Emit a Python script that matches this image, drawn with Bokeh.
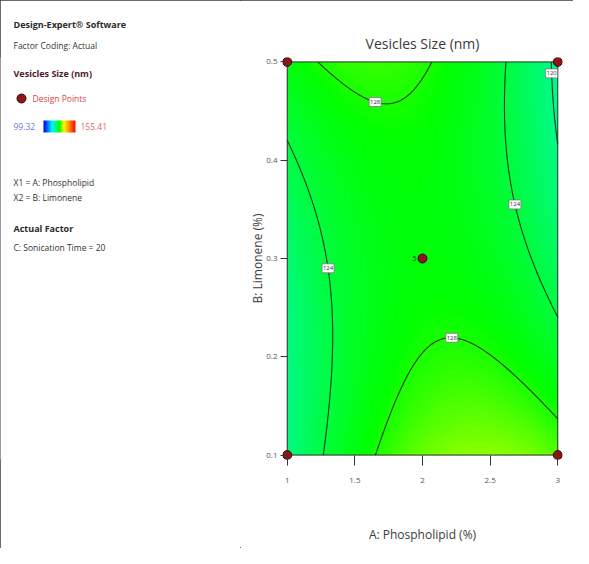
import numpy as np
from bokeh.plotting import figure
from bokeh.plotting.contour import contour_data
from bokeh.models import LinearColorMapper, FixedTicker, Title
from bokeh.layouts import row
from bokeh.embed import file_html
from bokeh.resources import INLINE
from bokeh.core.properties import value

# ---------------- data ----------------
phospholipid_range = [1.0, 3.0]      # A: Phospholipid (%)
limonene_range = [0.1, 0.5]          # B: Limonene (%)
response_min = 99.32
response_max = 155.41
# fitted quadratic model (coded units: x=(A-2)/1, y=(B-0.3)/0.2), sonication time = 20
coef_b0 = 127.0
coef_bA = 0.5
coef_bB = -0.995
coef_bAA = -5.25
coef_bBB = 2.275
coef_bAB = -4.2
contour_levels = [120, 124, 128]
design_A = [1, 3, 1, 3, 2]
design_B = [0.1, 0.1, 0.5, 0.5, 0.3]
center_replicates = 5
label_level = [128, 124, 124, 120, 128]
label_A = [1.67, 1.33, 2.70, 2.94, 2.22]
label_B = [0.467, 0.291, 0.356, 0.489, 0.233]
x_ticks = [1, 1.5, 2, 2.5, 3]
x_tick_labels = ["1", "1.5", "2", "2.5", "3"]
y_ticks = [0.1, 0.2, 0.3, 0.4, 0.5]
y_tick_labels = ["0.1", "0.2", "0.3", "0.4", "0.5"]
palette_stops = [(0, 0, 255), (0, 245, 255), (0, 255, 0), (255, 255, 0), (255, 0, 0)]
palette_stop_pos = [0.0, 0.25, 0.5, 0.63, 1.0]
header_lines = ["Design-Expert\u00ae Software", "Factor Coding: Actual"]
info_lines = [
    ("Vesicles Size (nm)", "bold", "#4a2030"),
    ("Design Points", "normal", "#d64545"),
    ("X1 = A: Phospholipid", "normal", "#333333"),
    ("X2 = B: Limonene", "normal", "#333333"),
    ("Actual Factor", "bold", "#2a2a2a"),
    ("C: Sonication Time = 20", "normal", "#333333"),
]

FONT = "Open Sans"


def response(A, B):
    x = (A - 2.0) / 1.0
    y = (B - 0.3) / 0.2
    return (coef_b0 + coef_bA * x + coef_bB * y + coef_bAA * x * x
            + coef_bBB * y * y + coef_bAB * x * y)


def make_palette(stops, pos, n=256):
    out = []
    for i in range(n):
        t = i / (n - 1)
        k = 0
        while k < len(pos) - 2 and t > pos[k + 1]:
            k += 1
        f = (t - pos[k]) / (pos[k + 1] - pos[k])
        f = min(max(f, 0.0), 1.0)
        c0, c1 = stops[k], stops[k + 1]
        r, g, b = (int(round(c0[j] + (c1[j] - c0[j]) * f)) for j in range(3))
        out.append("#%02x%02x%02x" % (r, g, b))
    return out


palette = make_palette(palette_stops, palette_stop_pos)
mapper = LinearColorMapper(palette=palette, low=response_min, high=response_max)

A_grid = np.linspace(phospholipid_range[0], phospholipid_range[1], 241)
B_grid = np.linspace(limonene_range[0], limonene_range[1], 241)
AA, BB = np.meshgrid(A_grid, B_grid)
Z = response(AA, BB)

# ---------------- layout geometry ----------------
W, H = 573, 548
LW = 240                      # width of the left information panel
ML, MR, MT, MB = 282, 11, 57, 89
xr = (0.965, 3.035)
yr = (0.0955, 0.5045)

# ---------------- left information panel ----------------
# its frame is aligned with the contour plot's frame (page rows MT .. H-MB);
# the y range is chosen so that y = H - page_row
left = figure(width=LW, height=H, x_range=(0, LW), y_range=(MB, H - MT),
              min_border_left=0, min_border_right=0, min_border_top=MT,
              min_border_bottom=MB, x_axis_type=None, y_axis_type=None,
              output_backend="svg", toolbar_location=None)
left.grid.visible = False
left.outline_line_color = None
left.background_fill_color = "white"
left.border_fill_color = "white"

# two header lines live above the frame, as titles
left.add_layout(Title(text=header_lines[1], align="left", offset=13, standoff=14,
                      text_font=FONT, text_font_size="8.5px", text_font_style="normal",
                      text_color="#333333"), "above")
left.add_layout(Title(text=header_lines[0], align="left", offset=13, standoff=0,
                      text_font=FONT, text_font_size="9px", text_font_style="bold",
                      text_color="#2a2a2a"), "above")

line_y = [73, 98, 182, 197, 228, 247]
line_x = [13, 32, 13, 13, 13, 13]
for (txt, style, col), tx, ty in zip(info_lines, line_x, line_y):
    left.text(x=[tx], y=[H - ty], text=[txt], text_font=value(FONT),
              text_font_size="9px" if style == "bold" else "8.5px",
              text_font_style=style, text_color=col,
              text_align="left", text_baseline="middle")

left.scatter(x=[21], y=[H - 98], size=9, fill_color="#8e1616",
             line_color="#3c0606", line_width=1)

grad = np.linspace(response_min, response_max, 64)[None, :]
left.image(image=[grad], x=43, y=H - 132, dw=32, dh=12, color_mapper=mapper)
left.text(x=[13], y=[H - 126], text=["%.2f" % response_min], text_font=value(FONT),
          text_font_size="8.5px", text_color="#6a78d8", text_align="left",
          text_baseline="middle")
left.text(x=[80], y=[H - 126], text=["%.2f" % response_max], text_font=value(FONT),
          text_font_size="8.5px", text_color="#e06a6a", text_align="left",
          text_baseline="middle")

# ---------------- contour plot ----------------
p = figure(width=W - LW, height=H, x_range=xr, y_range=yr,
           min_border_left=ML - LW, min_border_right=MR, min_border_top=MT,
           min_border_bottom=MB, output_backend="svg", toolbar_location=None,
           title="Vesicles Size (nm)")
p.grid.visible = False
p.outline_line_color = None
p.background_fill_color = "white"
p.border_fill_color = "white"

p.title.align = "center"
p.title.text_font = FONT
p.title.text_font_size = "14px"
p.title.text_font_style = "normal"
p.title.text_color = "#3a3a3a"
p.title.standoff = 10

fx = (W - ML - MR) / (xr[1] - xr[0])
fy = (H - MT - MB) / (yr[1] - yr[0])

p.image(image=[Z], x=phospholipid_range[0], y=limonene_range[0],
        dw=phospholipid_range[1] - phospholipid_range[0],
        dh=limonene_range[1] - limonene_range[0], color_mapper=mapper)

p.contour(A_grid, B_grid, Z, contour_levels, line_color="#173a17", line_width=1.1)

p.quad(left=[phospholipid_range[0]], right=[phospholipid_range[1]],
       bottom=[limonene_range[0]], top=[limonene_range[1]],
       fill_color=None, line_color="#2a2a2a", line_width=1)

cd = contour_data(A_grid, B_grid, Z, contour_levels, want_fill=False, want_line=True)
lx, ly = [], []
for lev, a0, b0 in zip(label_level, label_A, label_B):
    idx = contour_levels.index(lev)
    xs = np.asarray(cd.line_data.xs[idx], dtype=float)
    ys = np.asarray(cd.line_data.ys[idx], dtype=float)
    ok = ~(np.isnan(xs) | np.isnan(ys))
    xs, ys = xs[ok], ys[ok]
    d = ((xs - a0) * fx) ** 2 + ((ys - b0) * fy) ** 2
    j = int(np.argmin(d))
    lx.append(xs[j])
    ly.append(ys[j])

p.rect(x=lx, y=ly, width=12, height=9, width_units="screen", height_units="screen",
       fill_color="white", line_color="#777777", line_width=0.8)
p.text(x=lx, y=ly, text=[str(v) for v in label_level], text_font=value(FONT),
       text_font_size="6px", text_align="center", text_baseline="middle", text_color="#333333")

p.scatter(design_A, design_B, size=9, fill_color="#8e1616", line_color="#3c0606", line_width=1)
p.text(x=[design_A[4]], y=[design_B[4]], text=[str(center_replicates)], x_offset=-8,
       text_font=value(FONT), text_font_size="7px", text_align="center",
       text_baseline="middle", text_color="#333333")

p.xaxis.ticker = FixedTicker(ticks=x_ticks)
p.yaxis.ticker = FixedTicker(ticks=y_ticks)
p.xaxis.major_label_overrides = {t: s for t, s in zip(x_ticks, x_tick_labels)}
p.yaxis.major_label_overrides = {t: s for t, s in zip(y_ticks, y_tick_labels)}
for ax in (p.xaxis, p.yaxis):
    ax.minor_tick_line_color = None
    ax.axis_line_color = None
    ax.major_tick_line_color = "#333333"
    ax.major_label_text_font = FONT
    ax.major_label_text_font_size = "8px"
    ax.major_label_text_color = "#555555"
    ax.axis_label_text_font = FONT
    ax.axis_label_text_font_size = "12px"
    ax.axis_label_text_font_style = "normal"
    ax.axis_label_text_color = "#3a3a3a"
p.xaxis.major_tick_in = 4
p.xaxis.major_tick_out = 6
p.yaxis.major_tick_in = 5
p.yaxis.major_tick_out = 2
p.xaxis.major_label_standoff = 12
p.yaxis.major_label_standoff = 3
p.xaxis.axis_label = "A: Phospholipid (%)"
p.yaxis.axis_label = "B: Limonene (%)"
p.xaxis.axis_label_standoff = 40
p.yaxis.axis_label_standoff = -3

layout = row(left, p, spacing=0,
             styles={"outline": "1px solid #3a3a3a", "outline-offset": "-1px"})

open("out.html", "w").write(file_html(layout, INLINE))
